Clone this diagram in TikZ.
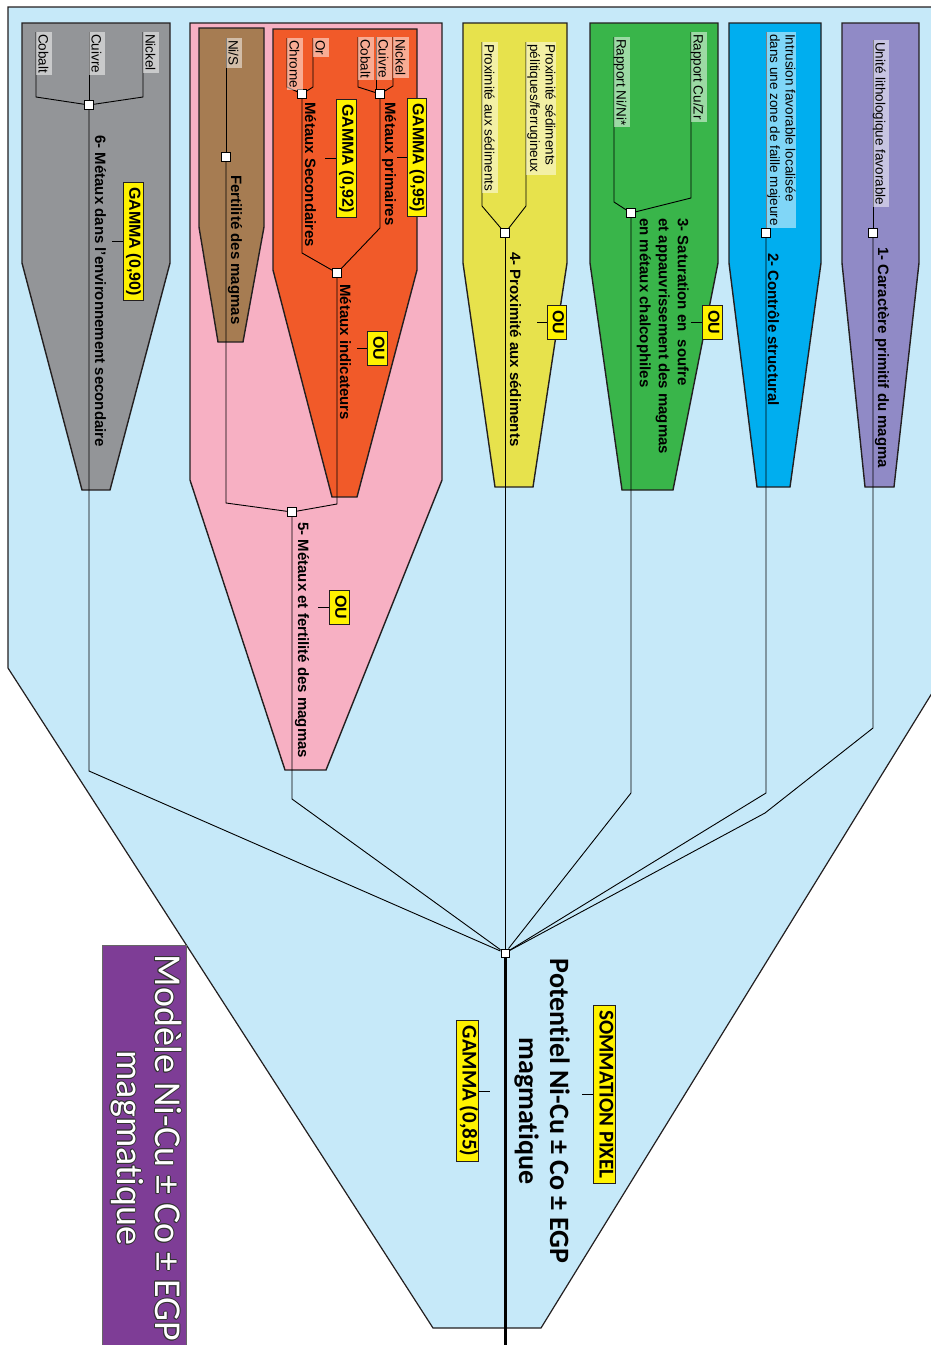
\documentclass[tikz,border=0pt]{standalone}
\usepackage{fontspec}
\setmainfont{Liberation Sans}
\newfontfamily\myr[Ligatures=NoCommon]{Carlito}
\definecolor{bgblue}{RGB}{198,233,249}
\definecolor{pgray}{RGB}{147,149,152}
\definecolor{ppink}{RGB}{247,176,195}
\definecolor{pbrown}{RGB}{166,124,82}
\definecolor{porange}{RGB}{241,90,41}
\definecolor{pyellow}{RGB}{231,226,76}
\definecolor{pgreen}{RGB}{57,181,74}
\definecolor{pblue}{RGB}{0,174,239}
\definecolor{ppurple}{RGB}{144,138,198}
\definecolor{tpurple}{RGB}{126,61,150}
\definecolor{byellow}{RGB}{255,242,0}
\definecolor{edge}{RGB}{35,31,32}
\newcommand{\outl}[1]{\makebox[0pt][l]{\hspace*{-1pt}\textcolor{black!80}{#1}}\makebox[0pt][l]{\hspace*{1pt}\textcolor{black!80}{#1}}\makebox[0pt][l]{\raisebox{1pt}{\textcolor{black!80}{#1}}}\makebox[0pt][l]{\raisebox{-1pt}{\textcolor{black!80}{#1}}}\makebox[0pt][l]{\hspace*{0.7pt}\raisebox{0.7pt}{\textcolor{black!80}{#1}}}\makebox[0pt][l]{\hspace*{-0.7pt}\raisebox{-0.7pt}{\textcolor{black!80}{#1}}}\makebox[0pt][l]{\hspace*{0.7pt}\raisebox{-0.7pt}{\textcolor{black!80}{#1}}}\makebox[0pt][l]{\hspace*{-0.7pt}\raisebox{0.7pt}{\textcolor{black!80}{#1}}}\textcolor{white}{#1}}
\tikzset{
  panel/.style={draw=edge, line width=1.4pt, line join=miter},
  conn/.style={draw=black, line width=0.9pt},
  jn/.style={draw=black, fill=white, minimum size=8.5pt, inner sep=0pt, line width=1pt},
  lab/.style={rotate=-90, anchor=south west, fill=white, fill opacity=0.5, text opacity=1,
     inner xsep=2pt, inner ysep=1pt, text height=12.5pt, text depth=1.5pt,
     font=\fontsize{13.5}{15.5}\selectfont},
  labtwo/.style={rotate=-90, anchor=south west, fill=white, fill opacity=0.5, text opacity=1,
     inner xsep=2pt, inner ysep=1pt, align=left, font=\fontsize{13.5}{15.5}\selectfont},
  ttl/.style={rotate=-90, anchor=base west, inner sep=0pt, font=\fontsize{15}{19}\selectfont\bfseries},
  ybox/.style={rotate=-90, draw=edge, fill=byellow, line width=1pt, inner xsep=5pt, inner ysep=2pt,
     text height=12pt, text depth=3.5pt, font=\fontsize{16}{18}\selectfont\bfseries},
  ybig/.style={rotate=-90, draw=edge, fill=byellow, line width=1pt, inner xsep=5pt, inner ysep=2pt,
     text height=14pt, text depth=4pt, font=\myr\fontsize{21}{24}\selectfont\bfseries},
  tick/.style={draw=black, line width=0.9pt},
}
\begin{document}
\begin{tikzpicture}[x=1pt,y=-1pt]
\useasboundingbox (0,0) rectangle (931,1345);
% main shape
\path[fill=bgblue, draw=edge, line width=1.2pt] (8,7) -- (945,7) -- (945,672) -- (541,1328) -- (433,1328) -- (8,668) -- cycle;
% title box
\path[fill=tpurple, draw=black!60, line width=0.8pt] (102,945) rectangle (186,1352);
% panels
\path[panel, fill=pgray]   (22,23) -- (170,23) -- (170,263) -- (110,490) -- (82,490) -- (22,263) -- cycle;
\path[panel, fill=ppink]   (190,23) -- (442,23) -- (442,480) -- (326,770) -- (285,770) -- (190,480) -- cycle;
\path[panel, fill=pbrown]  (199,28) -- (264,28) -- (264,227) -- (243,342) -- (218,342) -- (199,227) -- cycle;
\path[panel, fill=porange] (273,29) -- (417,29) -- (417,270) -- (357,497) -- (332,497) -- (273,270) -- cycle;
\path[panel, fill=pyellow] (463,23) -- (567,23) -- (567,263) -- (533,487) -- (495,487) -- (463,263) -- cycle;
\path[panel, fill=pgreen]  (590,23) -- (718,23) -- (718,263) -- (673,490) -- (622,490) -- (590,263) -- cycle;
\path[panel, fill=pblue]   (729,23) -- (821,23) -- (821,263) -- (790,487) -- (757,487) -- (729,263) -- cycle;
\path[panel, fill=ppurple] (842,23) -- (919,23) -- (919,263) -- (894,487) -- (865,487) -- (842,263) -- cycle;

% junctions
\node[jn] (j6) at (89,105) {};
\node[jn] (jfer) at (226,157) {};
\node[jn] (jprim) at (380,94) {};
\node[jn] (jsec) at (302,94) {};
\node[jn] (jind) at (337,273) {};
\node[jn] (j5) at (292,512) {};
\node[jn] (j4) at (505,233) {};
\node[jn] (j3) at (631,213) {};
\node[jn] (j2) at (766,233) {};
\node[jn] (j1) at (873,233) {};
\node[jn, minimum size=8pt] (hub) at (505,953) {};
\coordinate (out) at (505,1350);

% label attachment points
\coordinate (a6n) at (143,32);
\coordinate (a6c) at (89,32);
\coordinate (a6b) at (36,32);
\coordinate (afs) at (226,38);
\coordinate (aon) at (393,37);
\coordinate (aoc) at (376,37);
\coordinate (aob) at (358,37);
\coordinate (aor) at (313,38);
\coordinate (ach) at (287,38);
\coordinate (ay1) at (526,42);
\coordinate (ay2) at (482,42);
\coordinate (agc) at (691,32);
\coordinate (agn) at (614,37);
\coordinate (ab) at (766,32);
\coordinate (ap) at (873,40);

% connectors inside groups
\draw[conn] (a6n) -- (143,97) -- (j6);
\draw[conn] (a6c) -- (j6);
\draw[conn] (a6b) -- (36,97) -- (j6);
\draw[conn] (afs) -- (jfer);
\draw[conn] (aon) -- (393,86) -- (jprim);
\draw[conn] (aoc) -- (376,90);
\draw[conn] (aob) -- (358,87) -- (jprim);
\draw[conn] (aor) -- (313,87) -- (jsec);
\draw[conn] (ach) -- (287,87) -- (jsec);
\draw[conn] (jprim) -- (380,228) -- (jind);
\draw[conn] (jsec) -- (302,253) -- (jind);
\draw[conn] (jind) -- (337,504) -- (j5);
\draw[conn] (jfer) -- (226,503) -- (j5);
\draw[conn] (ay1) -- (526,206) -- (j4);
\draw[conn] (ay2) -- (482,206) -- (j4);
\draw[conn] (agc) -- (691,198) -- (j3);
\draw[conn] (agn) -- (614,202) -- (j3);
\draw[conn] (ab) -- (j2);
\draw[conn] (ap) -- (j1);
% connectors to hub
\draw[conn] (j6) -- (89,771) -- (hub);
\draw[conn] (j5) -- (292,799) -- (hub);
\draw[conn] (j4) -- (hub);
\draw[conn] (j3) -- (631,793) -- (hub);
\draw[conn] (j2) -- (766,793) -- (hub);
\draw[conn] (j1) -- (873,728) -- (765,813) -- (hub);
\draw[line width=3pt] (hub) -- (out);

% labels
\node[lab] (l6n) at (a6n) {Nickel};
\node[lab] (l6c) at (a6c) {Cuivre};
\node[lab] (l6b) at (a6b) {Cobalt};
\node[lab] (lfs) at (afs) {Ni/S};
\node[lab] (lon) at (aon) {Nickel};
\node[lab] (loc) at (aoc) {Cuivre};
\node[lab] (lob) at (aob) {Cobalt};
\node[lab] (lor) at (aor) {Or};
\node[lab] (lch) at (ach) {Chrome};
\node[labtwo] (ly1) at (ay1) {Proximité sédiments\\pélitiques/ferrugineux};
\node[lab] (ly2) at (ay2) {Proximité aux sédiments};
\node[lab] (lgc) at (agc) {Rapport Cu/Zr};
\node[lab] (lgn) at (agn) {Rapport Ni/Ni*};
\node[labtwo] (lb) at (ab) {Intrusion favorable localisée\\dans une zone de faille majeure};
\node[lab] (lp) at (ap) {Unité lithologique favorable};

% group titles
\node[ttl] (t6) at (95,135) {6- Métaux dans l'environnement secondaire};
\node[ttl] (tfer) at (231,175) {Fertilité des magmas};
\node[ttl] (tprim) at (385,102) {Métaux primaires};
\node[ttl] (tsec) at (305,102) {Métaux Secondaires};
\node[ttl] (tind) at (340,284) {Métaux indicateurs};
\node[ttl] (t5) at (298,522) {5- Métaux et fertilité des magmas};
\node[ttl] (t4) at (510,252) {4- Proximité aux sédiments};
\node[rotate=-90, anchor=north west, inner sep=0pt, align=left, font=\fontsize{15}{19}\selectfont\bfseries] (t3) at (689,218) {3- Saturation en\ \ soufre\\et appauvrissement des magmas\\en métaux chalcophiles};
\node[ttl] (t2) at (768,253) {2- Contrôle structural};
\node[ttl] (t1) at (878,247) {1- Caractère primitif du magma};

% operator boxes
\node[ybox] (g90) at (133.5,241.5) {GAMMA (0,90)};
\draw[tick] (g90.south) -- ++(-11,0);
\node[ybox] (g95) at (417,157.5) {GAMMA (0,95)};
\draw[tick] (g95.south) -- ++(-10,0);
\node[ybox] (g92) at (346.5,158.5) {GAMMA (0,92)};
\draw[tick] (g92.south) -- ++(-11,0);
\node[ybox] (ouind) at (377.5,348.5) {OU};
\draw[tick] (ouind.south) -- ++(-10,0);
\node[ybox] (ou5) at (339.5,607.5) {OU};
\draw[tick] (ou5.south) -- ++(-11,0);
\node[ybox] (ou4) at (557,322) {OU};
\draw[tick] (ou4.south) -- ++(-10,0);
\node[ybox] (ou3) at (712.5,322) {OU};
\draw[tick] (ou3.south) -- ++(-11,0);
\node[ybig] (som) at (604.5,1094.5) {SOMMATION PIXEL};
\draw[tick] (som.south) -- ++(-11,0);
\node[ybig] (g85) at (467.5,1091) {GAMMA (0,85)};
\draw[tick] (g85.north) -- ++(11,0);

% result text
\node[rotate=-90, align=center, inner sep=0pt, font=\myr\fontsize{28}{31}\selectfont\bfseries] (pot) at (542,1111) {Potentiel Ni-Cu ± Co ± EGP\\magmatique};
% title
\node[rotate=-90, align=center, inner sep=0pt, font=\myr\fontsize{38}{38}\selectfont] (title) at (146,1148) {\outl{Modèle Ni-Cu ± Co ± EGP}\\\outl{magmatique}};
\end{tikzpicture}
\end{document}
